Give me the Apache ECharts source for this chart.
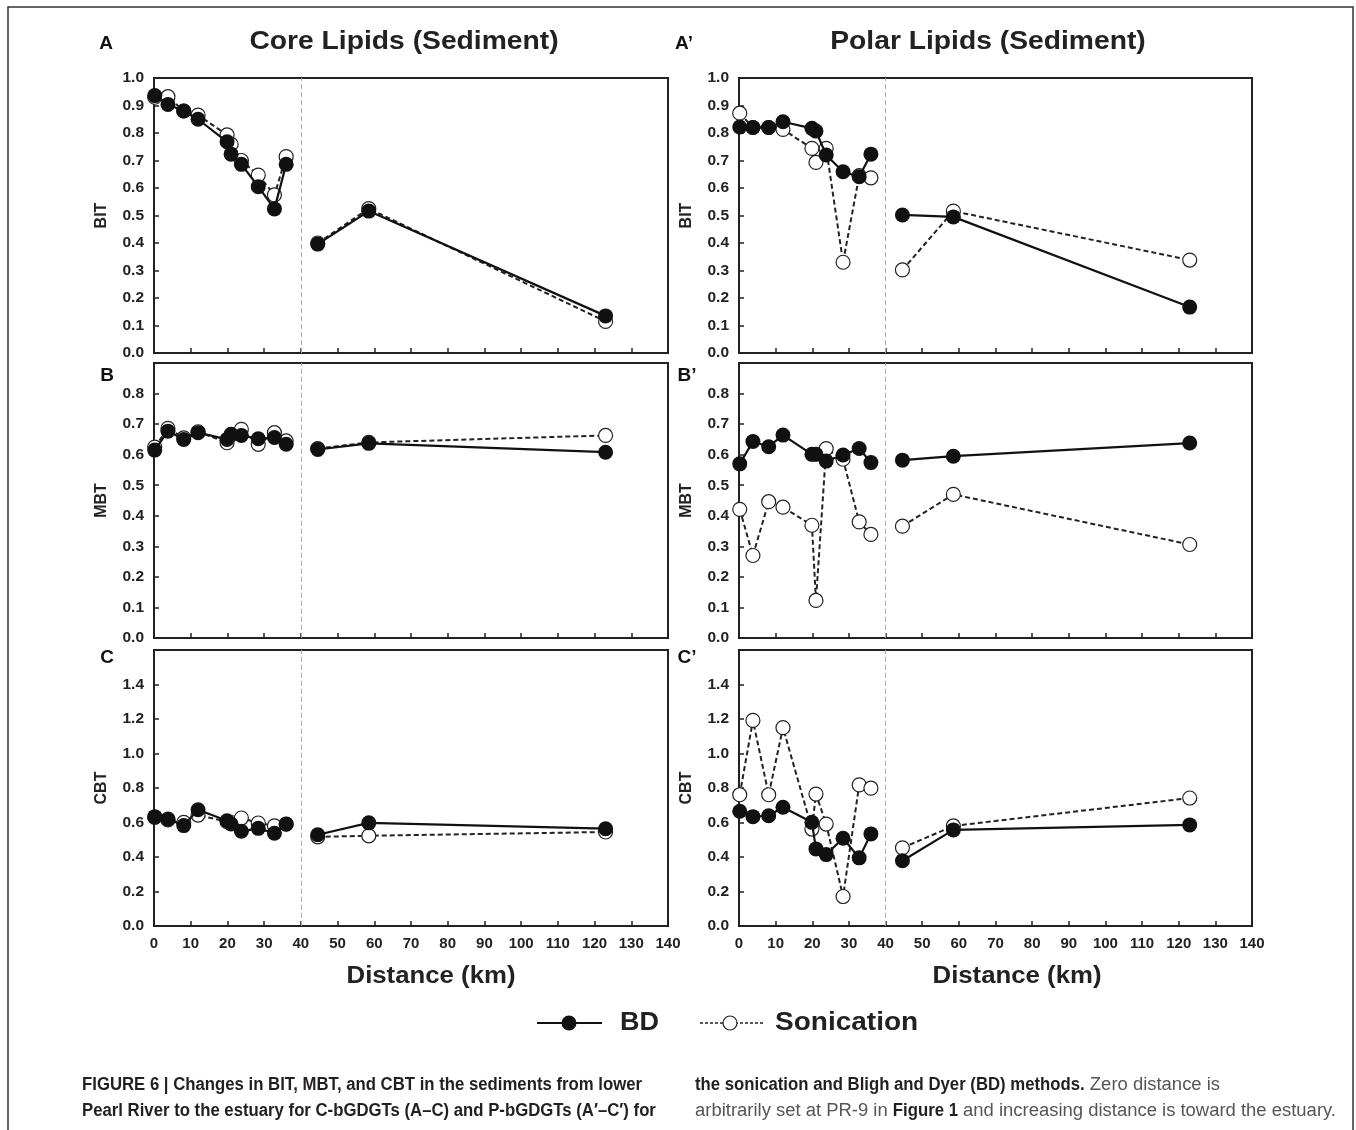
<!DOCTYPE html>
<html>
<head>
<meta charset="utf-8">
<script src="https://cdn.jsdelivr.net/npm/echarts@6/dist/echarts.min.js"></script>
<style>
html,body{margin:0;padding:0;background:#fff;}
#c{width:1356px;height:1130px;}
</style>
</head>
<body>
<div id="c"></div>
<script>
// Distance (km) of sampling sites
const distances = [0.2, 3.8, 8.1, 12.0, 19.9, 21.0, 23.8, 28.4, 32.8, 36.0, 44.6, 58.5, 123.0];
const riverCount = 10; // first segment (river), then estuary segment

// BIT
const bitCoreBD   = [0.936, 0.904, 0.880, 0.850, 0.768, 0.723, 0.686, 0.605, 0.524, 0.686, 0.396, 0.516, 0.135];
const bitCoreSon  = [0.930, 0.932, 0.880, 0.865, 0.793, 0.759, 0.700, 0.647, 0.575, 0.714, 0.400, 0.525, 0.115];
const bitPolarBD  = [0.822, 0.820, 0.820, 0.841, 0.817, 0.807, 0.720, 0.659, 0.641, 0.723, 0.502, 0.495, 0.167];
const bitPolarSon = [0.872, 0.820, 0.820, 0.813, 0.744, 0.693, 0.744, 0.330, 0.645, 0.637, 0.302, 0.516, 0.338];
// MBT
const mbtCoreBD   = [0.615, 0.677, 0.650, 0.672, 0.650, 0.667, 0.663, 0.652, 0.656, 0.634, 0.617, 0.637, 0.608];
const mbtCoreSon  = [0.625, 0.686, 0.655, 0.675, 0.639, 0.665, 0.683, 0.634, 0.672, 0.645, 0.620, 0.640, 0.663];
const mbtPolarBD  = [0.570, 0.643, 0.626, 0.664, 0.601, 0.601, 0.579, 0.599, 0.620, 0.574, 0.582, 0.595, 0.638];
const mbtPolarSon = [0.421, 0.270, 0.446, 0.428, 0.369, 0.123, 0.620, 0.585, 0.380, 0.339, 0.366, 0.470, 0.306];
// CBT
const cbtCoreBD   = [0.634, 0.620, 0.582, 0.674, 0.610, 0.591, 0.549, 0.566, 0.538, 0.591, 0.529, 0.598, 0.564];
const cbtCoreSon  = [0.630, 0.615, 0.601, 0.643, 0.605, 0.600, 0.626, 0.597, 0.581, 0.590, 0.517, 0.523, 0.545];
const cbtPolarBD  = [0.665, 0.634, 0.639, 0.688, 0.601, 0.447, 0.414, 0.509, 0.395, 0.534, 0.378, 0.557, 0.586];
const cbtPolarSon = [0.761, 1.192, 0.761, 1.150, 0.562, 0.765, 0.591, 0.171, 0.818, 0.799, 0.453, 0.580, 0.742];

const panelTitles = ['Core Lipids (Sediment)', 'Polar Lipids (Sediment)'];
const panelLetters = ['A', 'A\u2019', 'B', 'B\u2019', 'C', 'C\u2019'];
const yNames = ['BIT', 'MBT', 'CBT'];
const yMax = [1.0, 0.9, 1.6];
const yInterval = [0.1, 0.1, 0.2];
const xTickLabels = [0, 10, 20, 30, 40, 50, 60, 70, 80, 90, 100, 110, 120, 130, 140];
const xName = 'Distance (km)';
const legendNames = ['BD', 'Sonication'];
const dividerKm = 40;

const panels = [
  {bd: bitCoreBD, son: bitCoreSon},
  {bd: bitPolarBD, son: bitPolarSon},
  {bd: mbtCoreBD, son: mbtCoreSon},
  {bd: mbtPolarBD, son: mbtPolarSon},
  {bd: cbtCoreBD, son: cbtCoreSon},
  {bd: cbtPolarBD, son: cbtPolarSon}
];

const FONT = '"Liberation Sans", Arial, sans-serif';
const lefts = [154, 739];
const widths = [514, 513];
const tops = [78, 363, 650];
const heights = [275, 275, 276];

const sonStyle = {
  symbol: 'circle', symbolSize: 14,
  lineStyle: {color: '#222', width: 2, type: [5, 3]},
  itemStyle: {color: '#fff', borderColor: '#222', borderWidth: 1.2}
};
const bdStyle = {
  symbol: 'circle', symbolSize: 15,
  lineStyle: {color: '#111', width: 2.2},
  itemStyle: {color: '#111'}
};

const grids = [], xAxes = [], yAxes = [], series = [];
panels.forEach((p, i) => {
  const row = Math.floor(i / 2), col = i % 2;
  grids.push({left: lefts[col], top: tops[row], width: widths[col], height: heights[row],
    show: true, borderColor: '#222', borderWidth: 2, backgroundColor: 'transparent'});
  const bottomRow = row === 2;
  xAxes.push({
    gridIndex: i, type: 'value', min: 0, max: 140, interval: 10,
    axisLine: {show: true, onZero: false, lineStyle: {color: '#222', width: 2}},
    axisTick: {show: true, inside: true, length: 5, lineStyle: {color: '#222', width: 1.5}},
    splitLine: {show: false},
    axisLabel: {show: bottomRow, color: '#222', fontFamily: FONT, fontWeight: 'bold', fontSize: 15, margin: 10,
      formatter: v => xTickLabels.indexOf(v) >= 0 ? String(v) : ''}
  });
  const mx = yMax[row];
  yAxes.push({
    gridIndex: i, type: 'value', min: 0, max: mx, interval: yInterval[row],
    axisLine: {show: true, lineStyle: {color: '#222', width: 2}},
    axisTick: {show: true, inside: true, length: 5, lineStyle: {color: '#222', width: 1.5}},
    splitLine: {show: false},
    axisLabel: {color: '#222', fontFamily: FONT, fontWeight: 'bold', fontSize: 15.5, margin: 10,
      formatter: v => (row > 0 && Math.abs(v - mx) < 1e-9) ? '' : v.toFixed(1)},
    name: yNames[row], nameLocation: 'middle', nameRotate: 90, nameGap: 44,
    nameTextStyle: {color: '#222', fontFamily: FONT, fontWeight: 'bold', fontSize: 16}
  });
  const segs = [[0, riverCount], [riverCount, distances.length]];
  segs.forEach((s, k) => {
    const data = [];
    for (let j = s[0]; j < s[1]; j++) data.push([distances[j], p.son[j]]);
    const ser = Object.assign({
      name: legendNames[1], type: 'line', xAxisIndex: i, yAxisIndex: i, data,
      z: 2, animation: false, silent: true
    }, sonStyle);
    if (k === 0) {
      ser.markLine = {silent: true, symbol: 'none', label: {show: false}, animation: false,
        lineStyle: {color: '#aaa', type: [5, 3], width: 1}, data: [{xAxis: dividerKm}]};
    }
    series.push(ser);
  });
  segs.forEach(s => {
    const data = [];
    for (let j = s[0]; j < s[1]; j++) data.push([distances[j], p.bd[j]]);
    series.push(Object.assign({
      name: legendNames[0], type: 'line', xAxisIndex: i, yAxisIndex: i, data,
      z: 3, animation: false, silent: true
    }, bdStyle));
  });
});

const graphics = [];
graphics.push({type: 'rect', shape: {x: 8, y: 7, width: 1345, height: 1140},
  style: {fill: 'none', stroke: '#333', lineWidth: 1.5}, silent: true});
panelTitles.forEach((t, k) => {
  graphics.push({type: 'text', x: [404, 988][k], y: 42, scaleX: 1.13,
    style: {text: t, fill: '#222', font: 'bold 25px ' + FONT, textAlign: 'center', textVerticalAlign: 'middle'}});
});
const letterPos = [[106, 44], [684, 44], [107, 376], [687, 376], [107, 658], [687, 658]];
panelLetters.forEach((l, k) => {
  graphics.push({type: 'text', x: letterPos[k][0], y: letterPos[k][1],
    style: {text: l, fill: '#111', font: 'bold 19px ' + FONT, textAlign: 'center', textVerticalAlign: 'middle'}});
});
[431, 1017].forEach(x => {
  graphics.push({type: 'text', x: x, y: 977, scaleX: 1.12,
    style: {text: xName, fill: '#222', font: 'bold 23px ' + FONT, textAlign: 'center', textVerticalAlign: 'middle'}});
});
// legend
const legY = 1023;
graphics.push({type: 'line', shape: {x1: 537, y1: legY, x2: 602, y2: legY}, style: {stroke: '#111', lineWidth: 2.2}});
graphics.push({type: 'circle', shape: {cx: 569, cy: legY, r: 7.5}, style: {fill: '#111'}});
graphics.push({type: 'text', x: 620, y: legY, scaleX: 1.08,
  style: {text: legendNames[0], fill: '#222', font: 'bold 25px ' + FONT, textAlign: 'left', textVerticalAlign: 'middle'}});
graphics.push({type: 'line', shape: {x1: 700, y1: legY, x2: 765, y2: legY}, style: {stroke: '#222', lineWidth: 1.5, lineDash: [3, 2]}});
graphics.push({type: 'circle', shape: {cx: 730, cy: legY, r: 7}, style: {fill: '#fff', stroke: '#222', lineWidth: 1.2}});
graphics.push({type: 'text', x: 775, y: legY, scaleX: 1.12,
  style: {text: legendNames[1], fill: '#222', font: 'bold 25px ' + FONT, textAlign: 'left', textVerticalAlign: 'middle'}});

// caption
const capSize = 18;
const capLines = [
  {x: 82, y: 1085, parts: [['b', 'FIGURE 6 | Changes in BIT, MBT, and CBT in the sediments from lower']]},
  {x: 82, y: 1111, parts: [['b', 'Pearl River to the estuary for C-bGDGTs (A\u2013C) and P-bGDGTs (A\u2032\u2013C\u2032) for']]},
  {x: 695, y: 1085, parts: [['b', 'the sonication and Bligh and Dyer (BD) methods.'], ['r', ' Zero distance is']]},
  {x: 695, y: 1111, parts: [['r', 'arbitrarily set at PR-9 in '], ['b', 'Figure 1'], ['r', ' and increasing distance is toward the estuary.']]}
];
const fontOf = k => (k === 'b' ? 'bold ' : '') + capSize + 'px ' + FONT;
const mctx = document.createElement('canvas').getContext('2d');
const measure = (k, t) => { mctx.font = fontOf(k); return mctx.measureText(t).width; };
const boldScale = 560 / measure('b', capLines[0].parts[0][1]);
const last = capLines[3].parts;
const regScale = (641 - measure('b', last[1][1]) * boldScale) /
  (measure('r', last[0][1]) + measure('r', last[2][1]));
capLines.forEach(c => {
  let x = c.x;
  c.parts.forEach(p => {
    const sc = p[0] === 'b' ? boldScale : regScale;
    graphics.push({type: 'text', x: x, y: c.y, scaleX: sc,
      style: {text: p[1], font: fontOf(p[0]), fill: p[0] === 'b' ? '#231f20' : '#555',
        textVerticalAlign: 'middle', textAlign: 'left'}});
    x += measure(p[0], p[1]) * sc;
  });
});

const chart = echarts.init(document.getElementById('c'), null, {renderer: 'canvas'});
chart.setOption({
  animation: false,
  backgroundColor: '#fff',
  grid: grids, xAxis: xAxes, yAxis: yAxes, series,
  graphic: graphics
});
</script>
</body>
</html>
